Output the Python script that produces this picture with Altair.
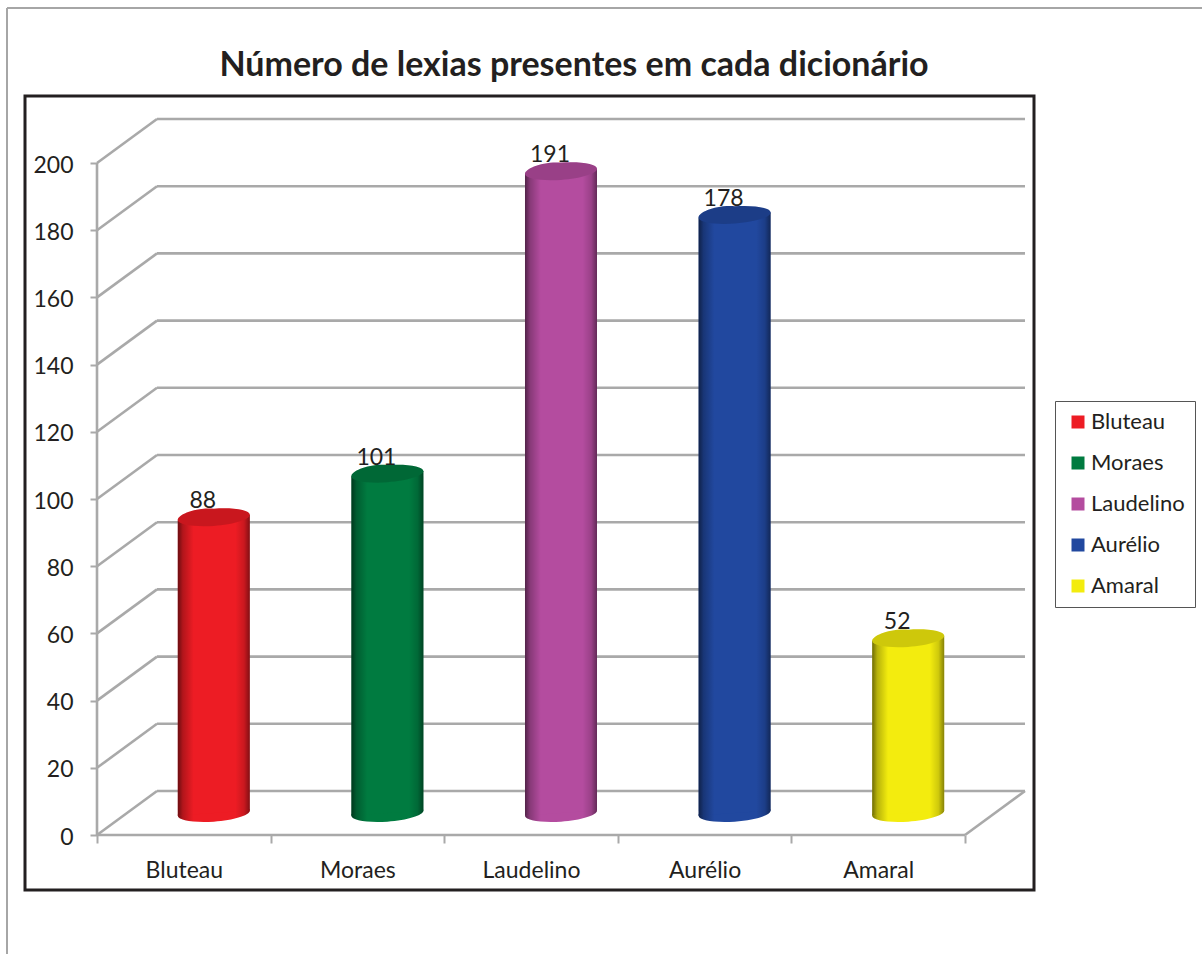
import json
import altair as alt
import pandas as pd

TITLE = "Número de lexias presentes em cada dicionário"
categories = ["Bluteau", "Moraes", "Laudelino", "Aurélio", "Amaral"]
lexias = [88, 101, 191, 178, 52]
colors = ["#ed1c24", "#007b40", "#b44c9f", "#21489f", "#f3ec0e"]
y_ticks = [0, 20, 40, 60, 80, 100, 120, 140, 160, 180, 200]
x_ticks = [0, 1, 2, 3, 4, 5]

# Geometry of the oblique projection, in data units
DEPTH_X = 0.3456
DEPTH_Y = 13.1
BAR_HALF = 0.2074
TILT = 0.75
X_MAX = 5 + DEPTH_X
Y_MAX = 200 + DEPTH_Y
PLOT_W, PLOT_H = 928, 716

# Tilted ellipse used for the cylinder caps
a, b, k = 0.24, 0.07, 0.5523
ELLIPSE = (
    f"M1,{-b} "
    f"C1,{-b + k * a} {k},{a - k * b} 0,{a} "
    f"C{-k},{a + k * b} -1,{b + k * a} -1,{b} "
    f"C-1,{b - k * a} {-k},{-a - k * b} 0,{-a} "
    f"C{k},{-a - k * b} 1,{-b - k * a} 1,{-b} Z"
)

x_scale = alt.Scale(domain=[0, X_MAX], nice=False, zero=False)
y_scale = alt.Scale(domain=[0, Y_MAX], nice=False, zero=False)
color_scale = alt.Scale(domain=categories, range=colors)

GRID = "#a9a9a9"
TEXT = "#231f20"
FONT = "Lato"

# Axes carry only ticks and labels; their lines come from the wireframe
label_expr = f"({json.dumps(categories, ensure_ascii=False)})[datum.value] || ''"
x_axis = alt.Axis(
    title=None,
    domain=False,
    grid=False,
    values=x_ticks,
    tickColor=GRID,
    tickWidth=2,
    tickSize=8,
    labelExpr=label_expr,
    labelOffset=86.8,
    labelFont=FONT,
    labelFontSize=23,
    labelColor=TEXT,
    labelPadding=16,
    labelOverlap=False,
    labelFlush=False,
    zindex=1,
)
y_axis = alt.Axis(
    title=None,
    domain=False,
    grid=False,
    values=y_ticks,
    tickColor=GRID,
    tickWidth=2,
    tickSize=7,
    labelFont=FONT,
    labelFontSize=23,
    labelColor=TEXT,
    labelPadding=17,
    labelOffset=2,
    zindex=1,
)

# Wireframe: back wall, side wall and floor
back = pd.DataFrame({"v": y_ticks})
back["x0"] = DEPTH_X
back["x1"] = X_MAX
back["y"] = back["v"] + DEPTH_Y
back["sx"] = 0.0
back["sy"] = back["v"]


def rule(frame, x, y, x2=None, y2=None, color=GRID, width=2.6):
    enc = {
        "x": alt.X(x, type="quantitative", scale=x_scale, axis=x_axis),
        "y": alt.Y(y, type="quantitative", scale=y_scale, axis=y_axis),
    }
    if x2:
        enc["x2"] = alt.X2(x2)
    if y2:
        enc["y2"] = alt.Y2(y2)
    return alt.Chart(frame).mark_rule(color=color, strokeWidth=width).encode(**enc)


back_lines = rule(back, "x0", "y", x2="x1")
side_lines = rule(back, "sx", "sy", x2="x0", y2="y")

edges = pd.DataFrame(
    {
        "x0": [0, 0, 5],
        "y0": [0, 0, 0],
        "x1": [0, 5, X_MAX],
        "y1": [200, 0, DEPTH_Y],
    }
)
edge_lines = rule(edges, "x0", "y0", x2="x1", y2="y1")

# Cylinders: each body is a two-point area so its ends follow the tilt of the caps
bodies = []
for i, (c, v) in enumerate(zip(categories, lexias)):
    cx = i + 0.5 + DEPTH_X / 2
    for side, tilt in ((-1, -TILT), (1, TILT)):
        bodies.append(
            {
                "cat": c,
                "x": cx + side * BAR_HALF,
                "low": DEPTH_Y / 2 + tilt,
                "high": v + DEPTH_Y / 2 + tilt,
            }
        )
bodies = pd.DataFrame(bodies)

caps = pd.DataFrame(
    {
        "cat": categories,
        "value": lexias,
        "x": [i + 0.5 + DEPTH_X / 2 for i in range(5)],
        "floor": DEPTH_Y / 2,
    }
)
caps["top"] = caps["value"] + DEPTH_Y / 2

x_enc = alt.X("x:Q", scale=x_scale, axis=x_axis)


def y_enc(field):
    return alt.Y(field, type="quantitative", scale=y_scale, axis=y_axis)


legend = alt.Legend(
    title=None,
    orient="none",
    legendX=958,
    legendY=282,
    symbolType="square",
    symbolSize=169,
    symbolStrokeWidth=0,
    symbolOffset=2,
    labelFont=FONT,
    labelFontSize=22,
    labelColor=TEXT,
    labelOffset=2,
    rowPadding=19,
    padding=10,
    fillColor="white",
    strokeColor="#555555",
)
color_enc = alt.Color("cat:N", scale=color_scale, sort=categories, legend=legend)

shade = alt.Gradient(
    gradient="linear",
    x1=0,
    x2=1,
    y1=0,
    y2=0,
    stops=[
        alt.GradientStop(color="rgba(0,0,0,0.55)", offset=0),
        alt.GradientStop(color="rgba(0,0,0,0.25)", offset=0.07),
        alt.GradientStop(color="rgba(0,0,0,0)", offset=0.22),
        alt.GradientStop(color="rgba(0,0,0,0)", offset=0.8),
        alt.GradientStop(color="rgba(0,0,0,0.15)", offset=0.92),
        alt.GradientStop(color="rgba(0,0,0,0.45)", offset=1),
    ],
)

bottom_cap = (
    alt.Chart(caps)
    .mark_point(filled=True, shape=ELLIPSE, size=72 * 72, opacity=1, strokeWidth=0)
    .encode(x=x_enc, y=y_enc("floor"), color=color_enc)
)
bottom_shade = (
    alt.Chart(caps)
    .mark_point(filled=True, shape=ELLIPSE, size=72 * 72, opacity=1, strokeWidth=0, fill=shade)
    .encode(x=x_enc, y=y_enc("floor"))
)
body = (
    alt.Chart(bodies)
    .mark_area(opacity=1)
    .encode(x=x_enc, y=y_enc("low"), y2="high:Q", color=color_enc)
)
body_shade = (
    alt.Chart(bodies)
    .mark_area(opacity=1, fill=shade)
    .encode(x=x_enc, y=y_enc("low"), y2="high:Q", detail="cat:N")
)
top_cap = (
    alt.Chart(caps)
    .mark_point(filled=True, shape=ELLIPSE, size=72 * 72, opacity=1, strokeWidth=0)
    .encode(x=x_enc, y=y_enc("top"), color=color_enc)
)
top_dark = (
    alt.Chart(caps)
    .mark_point(filled=True, shape=ELLIPSE, size=72 * 72, opacity=0.15, strokeWidth=0, color="black")
    .encode(x=x_enc, y=y_enc("top"))
)
value_labels = (
    alt.Chart(caps)
    .mark_text(font=FONT, fontSize=23, color=TEXT, dx=-11, dy=-16, baseline="middle")
    .encode(x=x_enc, y=y_enc("top"), text="value:Q")
)

# Chart frame and the page border around it
frame = (
    alt.Chart(pd.DataFrame({"a": [0]}))
    .mark_rect(fill="white", stroke="#231f20", strokeWidth=3)
    .encode(x=alt.value(-72), x2=alt.value(937), y=alt.value(-23), y2=alt.value(771))
)
page_left = (
    alt.Chart(pd.DataFrame({"a": [0]}))
    .mark_rule(color="#a6a6a6", strokeWidth=2)
    .encode(x=alt.value(-90), y=alt.value(-111), y2=alt.value(835))
)
page_top = (
    alt.Chart(pd.DataFrame({"a": [0]}))
    .mark_rule(color="#a6a6a6", strokeWidth=2)
    .encode(x=alt.value(-90), x2=alt.value(1105), y=alt.value(-111))
)

chart = (
    alt.layer(
        page_left,
        page_top,
        frame,
        back_lines,
        side_lines,
        edge_lines,
        bottom_cap,
        bottom_shade,
        body,
        body_shade,
        top_cap,
        top_dark,
        value_labels,
    )
    .properties(
        width=PLOT_W,
        height=PLOT_H,
        padding={"left": 97, "top": 119, "right": 177, "bottom": 119},
        autosize=alt.AutoSizeParams(type="none"),
        background="white",
        title=alt.TitleParams(
            TITLE,
            font=FONT,
            fontSize=34,
            fontWeight="bold",
            color=TEXT,
            anchor="middle",
            frame="group",
            dx=13,
            offset=-76,
        ),
    )
    .configure_view(stroke=None)
)

chart.save("out.html", embed_options={"renderer": "svg", "actions": False})
